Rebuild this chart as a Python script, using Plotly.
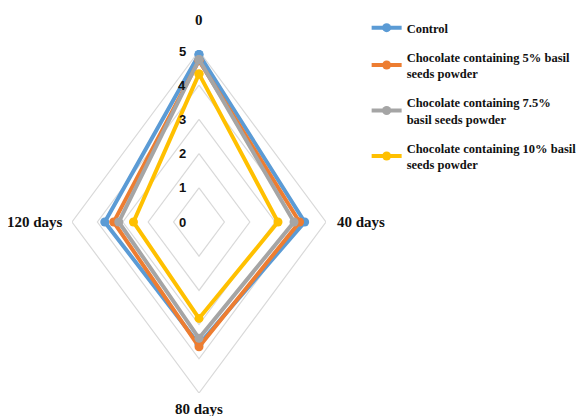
import math
import plotly.graph_objects as go

categories = ["0", "40 days", "80 days", "120 days"]
series_names = [
    "Control",
    "Chocolate containing 5% basil<br>seeds powder",
    "Chocolate containing 7.5%<br>basil seeds powder",
    "Chocolate containing 10% basil<br>seeds powder",
]
control = [4.90, 4.16, 3.58, 3.71]
choc_5 = [4.72, 3.96, 3.65, 3.36]
choc_75 = [4.75, 3.74, 3.40, 3.16]
choc_10 = [4.33, 3.11, 2.82, 2.58]
tick_values = [0, 1, 2, 3, 4, 5]

colors = ["#5B9BD5", "#ED7D31", "#A5A5A5", "#FFC000"]
series = [control, choc_5, choc_75, choc_10]

n = len(categories)
ux = [round(math.sin(2 * math.pi * i / n), 9) for i in range(n)]
uy = [round(math.cos(2 * math.pi * i / n), 9) for i in range(n)]


def to_xy(vals):
    xs = [v * ux[i] for i, v in enumerate(vals)]
    ys = [v * uy[i] for i, v in enumerate(vals)]
    return xs + xs[:1], ys + ys[:1]


fig = go.Figure()

# grid rings
for t in tick_values[1:]:
    gx, gy = to_xy([t] * n)
    fig.add_trace(go.Scatter(x=gx, y=gy, mode="lines",
                             line=dict(color="#D9D9D9", width=1.2),
                             hoverinfo="skip", showlegend=False))

serif = "Liberation Serif"
for k, (name, vals, col) in enumerate(zip(series_names, series, colors)):
    sx, sy = to_xy(vals)
    fig.add_trace(go.Scatter(
        x=sx, y=sy, mode="lines+markers", name=name,
        legendgroup="g%d" % k,
        line=dict(color=col, width=4),
        marker=dict(color=col, size=9),
        cliponaxis=False,
    ))

annotations = []
for t in tick_values:
    annotations.append(dict(x=0, y=t, xref="x", yref="y", text=str(t),
                            showarrow=False, xshift=-17,
                            font=dict(family="Liberation Sans", size=13,
                                      color="#111", weight="bold")))

label_font = dict(family=serif, size=15, color="#111", weight="bold")
R = tick_values[-1]
offsets = [
    dict(xanchor="center", yanchor="middle", xshift=0, yshift=31),
    dict(xanchor="left", yanchor="middle", xshift=9, yshift=0),
    dict(xanchor="center", yanchor="middle", xshift=0, yshift=-16),
    dict(xanchor="right", yanchor="middle", xshift=-7, yshift=0),
]
for i, cat in enumerate(categories):
    annotations.append(dict(x=R * ux[i], y=R * uy[i], xref="x", yref="y",
                            text=cat, showarrow=False, font=label_font,
                            **offsets[i]))

fig.update_layout(
    width=579, height=408,
    margin=dict(l=64, r=261, t=43, b=23, autoexpand=False),
    paper_bgcolor="white", plot_bgcolor="white",
    xaxis=dict(range=[-5, 5], visible=False, fixedrange=True),
    yaxis=dict(range=[-5, 5], visible=False, fixedrange=True),
    annotations=annotations,
    showlegend=True,
    legend=dict(x=1.16, y=1.111, xanchor="left", yanchor="top",
                font=dict(family=serif, size=12.5, color="#111", weight="bold"),
                tracegroupgap=10, bgcolor="rgba(0,0,0,0)"),
)

fig.write_html("out.html")
